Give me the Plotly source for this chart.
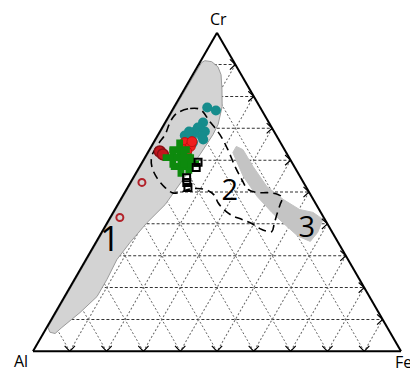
import math
import plotly.graph_objects as go

# Data (percent Cr / Fe, Al = 100 - Cr - Fe)
teal_cr = [76.5, 75.6, 71.8, 70.2, 69.0, 69.0, 67.4, 67.4, 65.5, 66.5, 64.6, 67.7, 69.0]
teal_fe = [9.1, 11.9, 10.3, 9.7, 12.2, 9.5, 9.5, 12.2, 10.7, 13.0, 9.3, 7.4, 7.9]

red_cr = [65.5, 64.3, 63.3, 62.7, 65.8]
red_fe = [8.5, 10.6, 9.1, 10.4, 10.3]

darkred_cr = [62.7, 61.8]
darkred_fe = [3.1, 4.4]

open_red_cr = [53.0, 42.0]
open_red_fe = [3.1, 2.6]

green_cr = [60.8, 63.3, 58.0, 58.9, 60.8]
green_fe = [7.6, 8.2, 11.2, 12.9, 10.6]

square_cr = [59.3, 57.7, 54.5, 53.0, 51.4]
square_fe = [15.2, 15.5, 14.5, 15.3, 16.4]

# field 1 (gray, along Cr-Al side)
field1_cr = [90.6, 91.2, 90.9, 89.3, 86.8, 82.1, 76.8, 71.2, 68.0, 61.8, 54.9, 46.1,
             40.4, 34.2, 28.8, 22.6, 17.2, 12.2, 7.5, 5.6, 6.0, 7.5, 10.0, 40.0, 70.0, 90.6]
field1_fe = [0.5, 1.1, 3.1, 5.6, 7.7, 10.3, 13.0, 14.7, 14.9, 14.5, 13.9, 12.9,
             10.8, 9.3, 8.4, 8.8, 8.8, 6.7, 4.1, 3.2, 1.6, 0.3, 0.3, 0.3, 0.3, 0.5]

# field 3 (gray, towards Fe)
field3_cr = [62.4, 64.3, 63.3, 58.0, 51.7, 47.7, 44.5, 43.6, 41.4, 37.3, 34.5, 36.1,
             39.2, 43.6, 48.6, 54.9, 59.3, 62.4]
field3_fe = [23.1, 23.1, 25.4, 30.8, 37.7, 44.1, 50.2, 54.3, 58.1, 58.7, 58.1, 54.0,
             49.4, 43.1, 36.6, 29.7, 25.8, 23.1]

# field 2 (dashed outline)
field2_cr = [74.9, 76.2, 75.9, 72.1, 68.0, 63.3, 58.0, 53.9, 50.8, 49.8, 49.8, 49.2,
             48.3, 46.1, 42.9, 39.8, 37.6, 38.2, 40.1, 41.4, 42.6, 44.5, 46.7, 48.9,
             50.5, 51.1, 50.8, 49.8, 49.8, 51.4, 54.5, 58.0, 61.1, 64.9, 68.0, 71.2,
             73.4, 74.9]
field2_fe = [1.9, 4.6, 7.5, 12.0, 16.8, 21.3, 25.9, 29.8, 33.0, 36.2, 38.9, 42.0,
             43.6, 44.1, 44.8, 45.6, 46.1, 43.1, 39.4, 36.1, 32.8, 29.6, 26.9, 24.9,
             22.2, 19.2, 16.7, 15.0, 12.9, 10.2, 6.4, 3.3, 1.7, 1.5, 1.9, 1.4,
             1.3, 1.9]

field_labels = ["1", "2", "3"]
label_cr = [34.2, 49.8, 38.2]
label_fe = [3.8, 28.6, 55.3]

ticks = [10, 20, 30, 40, 50, 60, 70, 80, 90]


def al(cr, fe):
    return [100 - a - c for a, c in zip(cr, fe)]


def tern_pt(x, y):
    # cartesian (side = 1) -> ternary percentages (Cr, Al, Fe)
    cr = y * 2 / math.sqrt(3)
    fe = x - cr / 2
    return cr * 100, (1 - cr - fe) * 100, fe * 100


fig = go.Figure()

fig.add_trace(go.Scatterternary(
    a=field1_cr, b=al(field1_cr, field1_fe), c=field1_fe, mode="lines",
    fill="toself", fillcolor="#d3d3d3", line=dict(color="#9a9a9a", width=1),
    hoverinfo="skip"))
fig.add_trace(go.Scatterternary(
    a=field3_cr, b=al(field3_cr, field3_fe), c=field3_fe, mode="lines",
    fill="toself", fillcolor="#c4c4c4", line=dict(color="#c4c4c4", width=1),
    hoverinfo="skip"))
fig.add_trace(go.Scatterternary(
    a=field2_cr, b=al(field2_cr, field2_fe), c=field2_fe, mode="lines",
    line=dict(color="black", width=1.6, dash="8px,5px", shape="spline"),
    hoverinfo="skip"))

# arrow heads on the bottom and right edges
w = 0.02
ta, tb, tc = [], [], []
for t in ticks:
    f = t / 100
    for (x, y) in [(f - w * 0.7, w * 0.75), (f, 0), (f + w * 0.7, w * 0.75)]:
        p = tern_pt(x, y)
        ta.append(p[0]); tb.append(p[1]); tc.append(p[2])
    ta.append(None); tb.append(None); tc.append(None)
    c = t / 100
    x0, y0 = 1 - c / 2, c * math.sqrt(3) / 2
    for (x, y) in [(x0 - w * 0.75, y0 + w * 0.7), (x0, y0), (x0 - w * 0.75, y0 - w * 0.7)]:
        p = tern_pt(x, y)
        ta.append(p[0]); tb.append(p[1]); tc.append(p[2])
    ta.append(None); tb.append(None); tc.append(None)
fig.add_trace(go.Scatterternary(a=ta, b=tb, c=tc, mode="lines",
                                line=dict(color="black", width=1.2),
                                connectgaps=False, hoverinfo="skip"))

fig.add_trace(go.Scatterternary(
    a=teal_cr, b=al(teal_cr, teal_fe), c=teal_fe, mode="markers",
    marker=dict(symbol="circle", size=10, color="#168c8c")))
fig.add_trace(go.Scatterternary(
    a=open_red_cr, b=al(open_red_cr, open_red_fe), c=open_red_fe, mode="markers",
    marker=dict(symbol="circle-open", size=7, color="#b2222a", line=dict(width=2))))
fig.add_trace(go.Scatterternary(
    a=darkred_cr, b=al(darkred_cr, darkred_fe), c=darkred_fe, mode="markers",
    marker=dict(symbol="circle", size=11, color="#c4161e",
                line=dict(color="#8a0f14", width=1.5))))
fig.add_trace(go.Scatterternary(
    a=red_cr, b=al(red_cr, red_fe), c=red_fe, mode="markers",
    marker=dict(symbol="circle", size=10, color="#f01e1e",
                line=dict(color="#c01010", width=1))))
fig.add_trace(go.Scatterternary(
    a=green_cr, b=al(green_cr, green_fe), c=green_fe, mode="markers",
    marker=dict(symbol="cross", size=17, color="#0d8a0d")))
fig.add_trace(go.Scatterternary(
    a=square_cr, b=al(square_cr, square_fe), c=square_fe, mode="markers",
    marker=dict(symbol="square-open", size=7, color="black", line=dict(width=2))))

fig.add_trace(go.Scatterternary(
    a=label_cr, b=al(label_cr, label_fe), c=label_fe, mode="text",
    text=field_labels,
    textfont=dict(family="Open Sans", size=[35, 29, 29], color="black"),
    hoverinfo="skip"))

axis_common = dict(showticklabels=False, ticks="", linecolor="black", linewidth=2,
                   showline=True, tick0=0, dtick=10, title=dict(text=""))
label_font = dict(family="Open Sans", size=16, color="black")
# the page body adds an 8px offset, so margins are trimmed by 8px on top/left
fig.update_layout(
    width=418, height=373,
    margin=dict(l=25, r=25, t=24, b=29, autoexpand=False),
    paper_bgcolor="white",
    showlegend=False,
    ternary=dict(
        sum=100,
        bgcolor="white",
        aaxis=dict(**axis_common, gridcolor="#333333", griddash="3px,2px", gridwidth=1),
        baxis=dict(**axis_common, gridcolor="#666666", griddash="2px,2px", gridwidth=1),
        caxis=dict(**axis_common, gridcolor="#666666", griddash="2px,2px", gridwidth=1),
    ),
    annotations=[
        dict(text="Cr", x=0.505, y=1.041, xref="paper", yref="paper", showarrow=False,
             xanchor="center", yanchor="middle", font=label_font),
        dict(text="Al", x=-0.033, y=-0.028, xref="paper", yref="paper", showarrow=False,
             xanchor="center", yanchor="middle", font=label_font),
        dict(text="Fe", x=1.006, y=-0.031, xref="paper", yref="paper", showarrow=False,
             xanchor="center", yanchor="middle", font=label_font),
    ],
)

fig.write_html("out.html")
